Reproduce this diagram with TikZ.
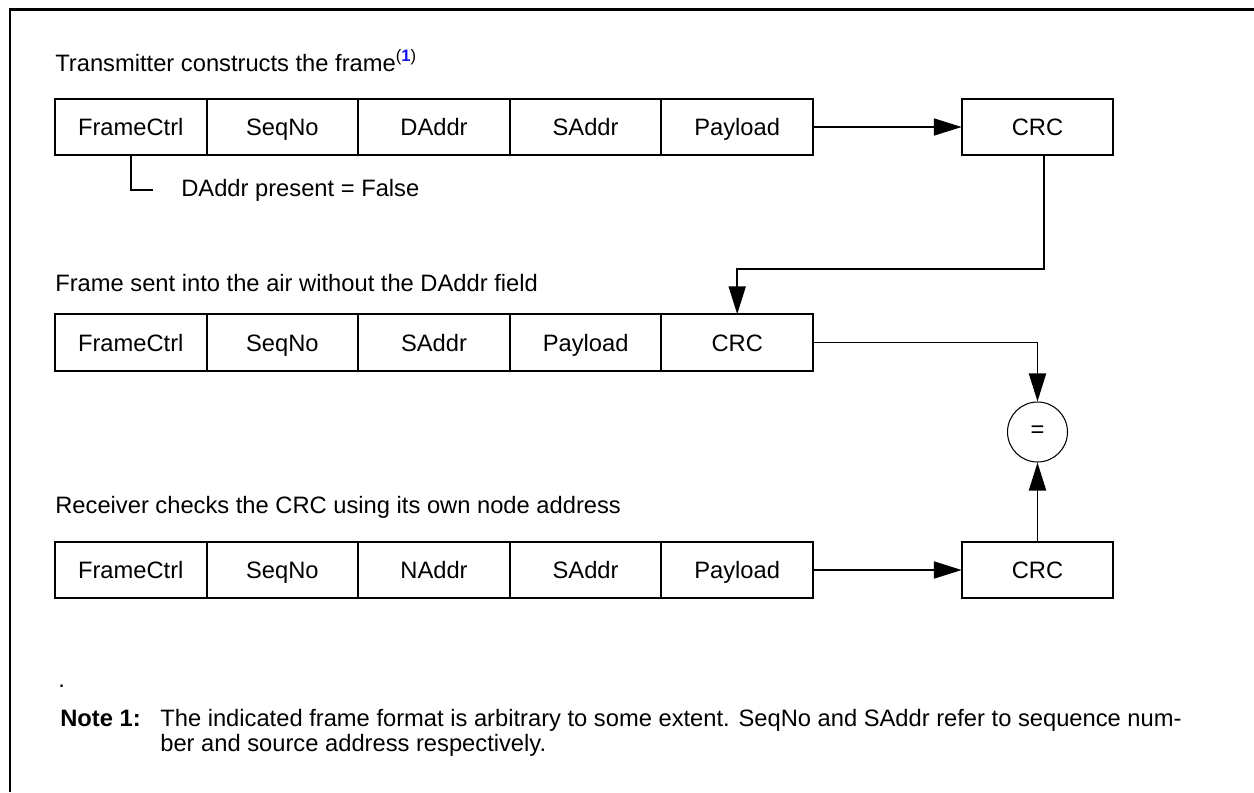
\documentclass[tikz,border=0pt]{standalone}
\usepackage{fontspec}
\setmainfont{Liberation Sans}
\usetikzlibrary{arrows.meta}
\definecolor{noteblue}{RGB}{20,20,235}

\begin{document}
\begin{tikzpicture}[x=0.02cm, y=-0.02cm,
    font=\fontsize{13.5}{16}\selectfont,
    cell/.style={draw, line width=1.1pt, minimum width=3.03cm, minimum height=1.13cm, inner sep=0pt, outer sep=0pt, text height=9.7pt, text depth=0pt},
    arr/.style={-{Triangle[length=0.56cm, width=0.34cm]}, line width=1.1pt},
    link/.style={line width=1.1pt},
    caption/.style={anchor=base west, inner sep=0pt}]
    \useasboundingbox (0,0) rectangle (1254,792);

    % -----------------------------------------------------
    % 1) Marco (solo arriba e izquierda)
    % -----------------------------------------------------
    \draw[line width=1.7pt] (10,792) -- (10,9.5) -- (1254,9.5);

    % -----------------------------------------------------
    % 2) Trama del transmisor
    % -----------------------------------------------------
    \node[caption] (capA) at (55,71) {Transmitter constructs the frame\textsuperscript{(\textcolor{noteblue}{\textbf{1}})}};
    \node[cell] (a1) at (130.8,127) {FrameCtrl};
    \node[cell] (a2) at (282.4,127) {SeqNo};
    \node[cell] (a3) at (434.0,127) {DAddr};
    \node[cell] (a4) at (585.6,127) {SAddr};
    \node[cell] (a5) at (737.2,127) {Payload};
    \node[cell] (crcA) at (1037.5,127) {CRC};

    \node[anchor=west, inner sep=0pt] (flag) at (181,190) {DAddr present = False};
    \draw[link] (a1.south) |- ([xshift=-16pt]flag.west);
    \draw[arr] (a5.east) -- (crcA.west);

    % -----------------------------------------------------
    % 3) Trama enviada sin DAddr
    % -----------------------------------------------------
    \node[caption] (capB) at (55,291) {Frame sent into the air without the DAddr field};
    \node[cell] (b1) at (130.8,342.5) {FrameCtrl};
    \node[cell] (b2) at (282.4,342.5) {SeqNo};
    \node[cell] (b3) at (434.0,342.5) {SAddr};
    \node[cell] (b4) at (585.6,342.5) {Payload};
    \node[cell] (b5) at (737.2,342.5) {CRC};

    \coordinate (bend) at (1044,269);
    \draw[arr] (crcA.south -| bend) -- (bend) -| (b5.north);

    % -----------------------------------------------------
    % 4) Comparacion del CRC
    % -----------------------------------------------------
    \node[circle, draw, line width=0.6pt, minimum size=1.2cm, inner sep=0pt] (eq) at (1037.5,432) {=};
    \draw[arr] (b5.east) -| (eq.north);

    % -----------------------------------------------------
    % 5) Trama del receptor
    % -----------------------------------------------------
    \node[caption] (capC) at (55,513) {Receiver checks the CRC using its own node address};
    \node[cell] (c1) at (130.8,570) {FrameCtrl};
    \node[cell] (c2) at (282.4,570) {SeqNo};
    \node[cell] (c3) at (434.0,570) {NAddr};
    \node[cell] (c4) at (585.6,570) {SAddr};
    \node[cell] (c5) at (737.2,570) {Payload};
    \node[cell] (crcB) at (1037.5,570) {CRC};

    \draw[arr] (c5.east) -- (crcB.west);
    \draw[arr] (crcB.north) -- (eq.south);

    % -----------------------------------------------------
    % 6) Nota
    % -----------------------------------------------------
    \node[caption] (dot) at (58,687) {.};
    \node[caption] (noteA) at (60,726) {\textbf{Note 1:}};
    \node[caption] (noteB) at (160,726) {The indicated frame format is arbitrary to some extent. SeqNo and SAddr refer to sequence num-};
    \node[caption] (noteC) at (160,751) {ber and source address respectively.};

\end{tikzpicture}
\end{document}
